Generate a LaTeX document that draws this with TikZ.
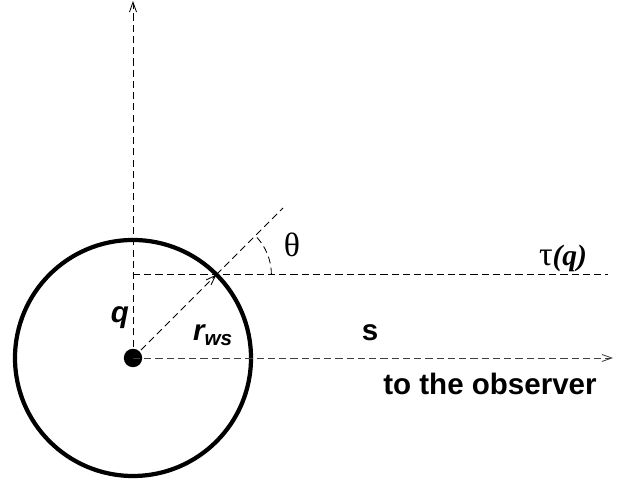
\documentclass[tikz,border=0pt]{standalone}
\usepackage{fontspec}
\setmainfont{Liberation Sans}
\newfontfamily\greekfont{Liberation Serif}
\usetikzlibrary{arrows.meta}

\begin{document}
\begin{tikzpicture}[
    x=0.025cm, y=0.025cm,
    guide/.style={line width=0.6pt,dash pattern=on 5pt off 3pt},
    ray/.style={guide,-{Straight Barb[length=7pt,width=5pt]}},
    cell/.style={line width=3pt},
    dot/.style={circle,fill,inner sep=0pt,minimum size=0.46cm},
    lbl/.style={font=\fontsize{21}{25}\selectfont\bfseries},
    ilbl/.style={font=\fontsize{21}{25}\selectfont\bfseries\itshape},
    greek/.style={font=\fontsize{24}{28}\selectfont\greekfont}
]
\useasboundingbox (0,0) rectangle (621,485);

% cell and charge
\draw[cell] (133,127) circle (118);
\node[dot] (q) at (133,127) {};

% reference points
\coordinate (top) at (133,484);
\coordinate (far) at (613,127);
\coordinate (corner) at (133,210.4);
\coordinate (tauend) at (608,210.4);
\coordinate (hit) at (216.4,210.4);
\coordinate (diagend) at (283,277);

% axes
\draw[ray] (q.center) -- (top);
\draw[ray,black!75] (q.center) -- (far);
\draw[guide] (corner) -- (tauend);

% radius and angle
\draw[ray] (q.center) -- (hit);
\draw[guide] (hit) -- (diagend);
\draw[guide] (hit) ++(55,0) arc (0:45:55);

% labels
\node[greek] (theta) at (292,240) {θ};
\node[greek] (tau) at (563,227) {τ\fontsize{21}{25}\selectfont\textbf{\textit{(q)}}};
\node[ilbl] (qlbl) at (120,167) {q};
\node[ilbl] (rws) at (213,150) {r\textsubscript{ws}};
\node[lbl] (slbl) at (370,152) {s};
\node[lbl] (obs) at (490,101) {to the observer};

\end{tikzpicture}
\end{document}
